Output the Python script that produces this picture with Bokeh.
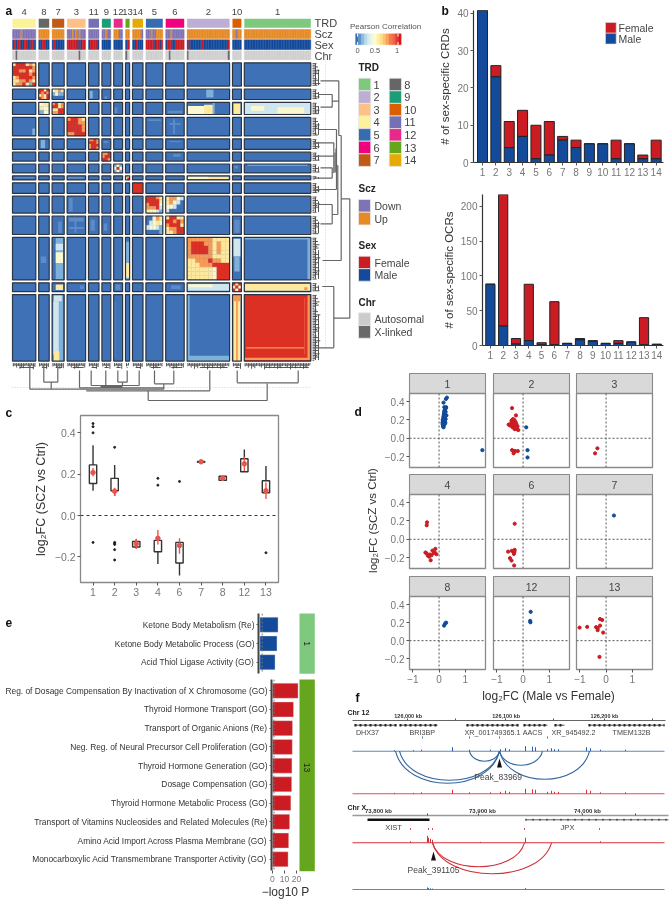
from bokeh.plotting import figure
from bokeh.layouts import column
from bokeh.models import Range1d, FactorRange, FixedTicker, Span
from bokeh.core.properties import value
from bokeh.embed import file_html
from bokeh.resources import INLINE

FONT = "Liberation Sans"
RED, BLUE = "#cb1c24", "#134a9a"
GREY_TXT, DARK_TXT = "#777777", "#333333"

# ---------- data: CRD counts per TRD (panel b)
trd = list(range(1, 15))
crd_male = [41, 23, 4, 7, 1, 2, 6, 4, 5, 5, 1, 5, 1, 1]
crd_female = [0, 3, 7, 7, 9, 9, 1, 2, 0, 0, 5, 0, 1, 5]
ocr_male = [88, 28, 2, 7, 1, 1, 3, 8, 6, 3, 3, 5, 1, 1]
ocr_female = [0, 189, 8, 81, 3, 62, 0, 2, 1, 0, 4, 0, 39, 1]
trd_colors = {1: "#7fc97f", 2: "#beaed4", 3: "#fdc086", 4: "#fbf29a", 5: "#386cb0", 6: "#f0027f", 7: "#bf5b17",
              8: "#666666", 9: "#1b9e77", 10: "#d95f02", 11: "#7570b3", 12: "#e7298a", 13: "#66a61e", 14: "#e6ab02"}

# ---------- data: heat map
order = [4, 8, 7, 3, 11, 9, 12, 13, 14, 5, 6, 2, 10, 1]
scz = {4: "DDDDDUDDDDDDDD", 8: "UUUUUU", 7: "UUUUUUU", 3: "DDDUDUDUDDD", 11: "DDDDDD", 9: "DDUDD", 12: "UUUDD", 13: "UU",
       14: "UUUUUD", 5: "DDDUDDUUUU", 6: "DDDUDDDDDDD", 2: "U" * 26, 10: "UUDUU", 1: "U" * 41}
sex = {4: "MFMFFMMFFMMFFM", 8: "MMFFMM", 7: "MFMMMMM", 3: "FFFFFFMFMFF", 11: "MFFFFM", 9: "MMMMM", 12: "MMMMM", 13: "MF",
       14: "MMFMMM", 5: "FFFFFMFFMF", 6: "MFFFMMFFFFF", 2: "MFMMMMMMMFMMMMMMMMMMMMMMMF", 10: "MMMMM", 1: "M" * 41}
chr_x = {4: [2], 3: [7], 13: [0], 6: [2], 2: [0, 25]}
ramp = {"B": "#3f71b7", "l": "#5c8cc8", "L": "#7fb0da", "P": "#cfe6ee", "W": "#fbf8d0", "Y": "#fee99d", "O": "#f79a56", "R": "#dc3024", "D": "#e8553c"}
diag = {
    4: ["YRRRYOY", "RRRRRRO", "RROORYO", "RRRRROR", "YORRRRO", "YYOOROY", "YOORYLR"],
    8: ["RRWR", "RORO", "WOYR", "ROYR"],
    7: ["ORYO", "RRYO", "YYRR", "OORR"],
    3: ["ORROY", "RRROO", "RRRRO", "RRRRO", "OORRR"],
    11: ["OORO", "RRRO", "ORRR", "ORRO"],
    9: ["OOR", "ORR", "RRO"],
    12: ["LWL", "WRW", "LWL"],
    13: ["OW", "WR"],
    14: ["R"],
    5: ["RRROY", "RRRRY", "ORRRW", "OOORP", "YWWPL"],
    6: ["YRRYY", "RRORO", "ORRRY", "YOORR", "YYORR"],
    2: ["OOOOOOYYYY", "ORRROOYOYY", "ORRRROYOYY", "ORRRROYOYY", "OOOOOOYYYY", "YYOOOROOYY", "YYYOOORRRR", "YYYYYYWRRR", "YYYYYYWRRR", "YYYYYYWRRR"],
    10: ["RYR", "YRW", "RWR"],
    1: ["R"],
}
cross = {(5, 6): ["YOOWP", "YOWPB", "WWPBB", "PBBBB"], (6, 5): ["BBWOY", "BPWYW", "PWWPL", "BBBBL"],
         (8, 7): ["WYOY", "LWLL", "BBBB"], (7, 8): ["WY", "YW", "LW"]}
patches = [(1, 1, .95, .985, 0, .96, "O"), (1, 1, 0, .985, .95, .985, "O"), (1, 1, .03, .9, .79, .81, "O"), (1, 1, .9, .915, .05, .9, "D"),
           (8, 2, .45, .62, 0, .8, "L"), (8, 11, .1, .4, .2, .9, "L"), (8, 9, .3, .6, .7, 1, "l"),
           (7, 2, .02, .62, .3, 1, "W"), (7, 2, .4, .62, .2, 1, "Y"), (7, 2, .6, .65, 0, 1, "L"),
           (7, 1, 0, 1, 0, 1, "P"), (7, 1, .1, .3, .3, .7, "W"), (7, 1, .5, .9, .4, .9, "W"), (7, 10, .1, .9, .1, 1, "Y"),
           (7, 6, .1, .9, .7, .9, "l"), (7, 12, 0, .4, .4, .9, "l"), (3, 5, .1, .9, .1, .2, "l"), (3, 6, .2, .8, .3, .4, "l"),
           (3, 6, .4, .5, .1, .9, "l"), (3, 4, .85, 1, .6, .95, "L"), (11, 8, .2, .6, .1, .9, "L"), (11, 6, .2, .8, .2, .3, "l"),
           (11, 9, .2, .7, .2, .4, "l"), (9, 6, .4, .8, .2, .5, "l"), (12, 1, .05, .95, .05, .2, "L"), (12, 10, .2, .6, .2, .5, "l"),
           (13, 2, .02, .98, .2, .8, "Y"), (13, 2, .02, .5, .2, .8, "W"), (13, 3, .05, .9, .2, .7, "l"), (13, 4, .1, .9, .3, .6, "l"),
           (5, 3, .1, .3, .1, .9, "l"), (6, 3, .1, .9, .1, .3, "l"), (6, 3, .4, .5, .1, .9, "l"), (6, 3, .1, .9, .6, .7, "l"),
           (6, 11, .2, .6, .2, .8, "l"), (6, 9, .2, .6, .4, .8, "l"), (6, 7, .5, .8, .3, .9, "l"), (6, 10, .2, .8, .2, .9, "l"),
           (2, 7, .3, .9, 0, 1, "L"), (2, 7, .3, .9, .15, .3, "P"), (2, 7, .3, .9, .35, .6, "W"), (2, 8, .2, .7, .45, .6, "l"),
           (2, 13, .1, .9, .1, 1, "L"), (2, 13, .1, .9, .6, .95, "Y"), (2, 10, .1, .9, .03, .45, "P"), (2, 10, .2, .8, .45, .8, "L"),
           (2, 1, 0, 1, 0, .05, "L"), (2, 1, .95, 1, 0, 1, "L"), (10, 7, .3, .9, .2, .8, "Y"), (10, 3, .7, .9, .3, .7, "l"),
           (10, 12, .2, .7, .2, .8, "l"), (10, 6, .3, .8, .3, .7, "l"), (10, 2, .01, .99, .1, .9, "P"), (10, 2, .03, .6, .2, .5, "W"),
           (10, 1, .01, .99, .1, .9, "Y"), (10, 1, .9, .95, .5, .8, "O"), (1, 7, .1, .9, 0, 1, "L"), (1, 7, .15, .8, 0, .1, "P"),
           (1, 7, .1, .55, .1, .9, "P"), (1, 7, .15, .6, .85, 1, "Y"), (1, 12, .1, .2, .1, .95, "l"), (1, 2, 0, .06, 0, 1, "L"),
           (1, 2, 0, 1, .92, 1, "L"), (1, 10, .1, .9, 0, 1, "Y"), (1, 10, .1, .9, 0, .1, "O"), (1, 10, .4, .6, 0, 1, "O")]
leaf_pattern = "4263857314629537"
row_tree = [(320, 80.3, 338.3, 80.3), (318, 94, 331.7, 94), (320, 106.7, 331.7, 106.7), (331.7, 94, 331.7, 106.7), (331.7, 100.7, 338.3, 100.7),
            (338.3, 80.3, 338.3, 135), (338.3, 135, 340.7, 135), (340.7, 135, 340.7, 260), (322, 260, 340.7, 260), (340.7, 198.3, 349.3, 198.3),
            (349.3, 198.3, 349.3, 317.7), (333.3, 317.7, 349.3, 317.7), (333.3, 286, 333.3, 347.3), (321.7, 286, 333.3, 286), (313.3, 347.3, 333.3, 347.3),
            (318.3, 129, 336, 129), (336, 129, 336, 189), (313, 142.3, 333.3, 142.3), (313, 155.7, 333.3, 155.7), (320, 167.3, 331.7, 167.3),
            (313, 177.7, 331.7, 177.7), (331.7, 167.3, 331.7, 177.7), (331.7, 172, 333.3, 172), (313, 189, 336, 189), (318.3, 204, 331.7, 204),
            (320, 223.3, 331.7, 223.3), (331.7, 204, 331.7, 223.3), (331.7, 214, 337.3, 214), (337.3, 165, 337.3, 214), (336, 165, 337.3, 165),
            (333.3, 142.3, 333.3, 172), (334.5, 152, 334.5, 172), (335.5, 148, 335.5, 172)]
col_tree = [(29.3, 365, 29.3, 388.7), (43.3, 365, 43.3, 381.7), (57.3, 365, 57.3, 381.7), (43.3, 381.7, 57.3, 381.7), (50.7, 381.7, 50.7, 388.7),
            (29.3, 388.7, 163.3, 388.7), (85.7, 390.3, 209.3, 390.3), (209.3, 370, 209.3, 390.3), (147.7, 390.3, 147.7, 400), (147.7, 400, 266.7, 400),
            (266.7, 383, 266.7, 400), (236.7, 370, 236.7, 382.3), (297.7, 370, 297.7, 382.3), (236.7, 382.3, 297.7, 382.3), (79, 370, 79, 387.3),
            (79, 387.3, 163.3, 387.3), (154, 370, 154, 383.3), (173.3, 370, 173.3, 383.3), (154, 383.3, 173.3, 383.3), (163.3, 383.3, 163.3, 388.7),
            (90.7, 370, 90.7, 385), (105.3, 370, 105.3, 385), (117.3, 370, 117.3, 381.7), (126.7, 370, 126.7, 381.7), (117.3, 381.7, 126.7, 381.7),
            (122, 381.7, 122, 385), (138.7, 370, 138.7, 385), (90.7, 385, 138.7, 385), (100, 386, 122, 386), (100, 387, 122, 387)]

# ---------- data: panel c
c_labels = ["1", "2", "3", "4", "6", "7", "8", "12", "13"]
c_q1 = [.155, .12, -.152, -.175, -.23, .258, .17, .212, .11]
c_q3 = [.245, .18, -.125, -.12, -.13, .262, .19, .275, .168]
c_lo = [.12, .095, -.16, -.235, -.29, .258, .17, .212, .11]
c_hi = [.34, .245, -.115, -.12, -.13, .262, .19, .32, .24]
c_mean = [.208, .118, -.137, -.11, -.145, .26, .18, .25, .12]
c_err_lo = [.19, .095, -.162, -.14, -.185, .252, .168, .215, .08]
c_err_hi = [.23, .135, -.112, -.07, -.11, .268, .192, .285, .16]
c_out_x = [0, 0, 0, 0, 1, 1, 1, 1, 1, 1, 3, 3, 4, 8]
c_out_y = [.40, .43, .445, -.13, .33, -.13, -.135, -.14, -.165, -.215, .18, .147, .165, -.18]

# ---------- data: panel d  (x, y, colour class)
d_panels = {
    "1": [(.15, .13), (.17, .12), (.14, .15), (.18, .14), (.2, .15), (.16, .16), (.13, .17), (.19, .17), (.22, .16), (.15, .18), (.18, .18), (.21, .18),
          (.24, .17), (.14, .2), (.17, .2), (.2, .2), (.23, .2), (.16, .22), (.19, .22), (.22, .22), (.25, .21), (.17, .24), (.2, .24), (.23, .24),
          (.28, .25), (.18, .26), (.21, .26), (.24, .26), (.19, .28), (.22, .28), (.2, .3), (.25, .29), (.23, .31), (.26, .33), (.2, .34), (.27, .34),
          (.17, .39), (.26, .43), (.3, .445), (1.65, -.13)],
    "2": [(-.42, .33), (-.27, .25), (-.55, .15), (-.5, .14), (-.46, .16), (-.44, .19), (-.42, .2), (-.4, .18), (-.38, .21), (-.36, .19), (-.33, .2),
          (-.44, .14), (-.41, .15), (-.38, .16), (-.35, .16), (-.32, .17), (-.29, .18), (-.26, .16), (-.4, .12), (-.36, .13), (-.33, .13), (-.3, .14),
          (-.27, .13), (-.24, .14), (-.21, .13), (-.32, .1), (-.28, .11), (-.24, .1), (-.18, .09), (-.42, -.13), (-.35, -.14), (-.3, -.14), (-.2, -.14),
          (-.36, -.165)],
    "3": [(-.33, -.11), (-.42, -.165)],
    "4": [(-.46, .185), (-.47, .153), (-.52, -.145), (-.48, -.153), (-.43, -.178), (-.35, -.167), (-.29, -.175), (-.25, -.124), (-.32, -.23),
          (-.14, -.105), (-.16, -.145), (-.1, -.164), (-.38, -.19), (-.2, -.15)],
    "6": [(-.32, .17), (-.32, -.116), (-.33, -.138), (-.43, -.127), (-.57, -.135), (-.35, -.16), (-.5, -.207), (-.44, -.233), (-.34, -.287), (-.38, -.127)],
    "7": [(.3, .26)],
    "8": [(.27, .2), (.23, .19), (.19, .167)],
    "12": [(.29, .32), (.27, .22), (.28, .204)],
    "13": [(-1.01, .145), (-.72, .153), (-.38, .15), (-.32, .116), (-.23, .24), (-.15, .23), (-.23, .167), (-.11, .09), (-.25, -.18), (-.32, .14)],
}
d_blue = {"1": BLUE, "2": RED, "3": RED, "4": RED, "6": RED, "7": BLUE, "8": BLUE, "12": BLUE, "13": RED}
d_extra_blue = [(.12, .12), (.17, -.13), (.17, -.21)]

# ---------- data: panel e
e_top = ["Ketone Body Metabolism (Re)", "Ketone Body Metabolic Process (GO)", "Acid Thiol Ligase Activity (GO)"]
e_top_v = [10.3, 9.7, 8.6]
e_low = ["Reg. of Dosage Compensation By Inactivation of X Chromosome (GO)", "Thyroid Hormone Transport (GO)", "Transport of Organic Anions (Re)",
         "Neg. Reg. of Neural Precursor Cell Proliferation (GO)", "Thyroid Hormone Generation (GO)", "Dosage Compensation (GO)",
         "Thyroid Hormone Metabolic Process (GO)", "Transport of Vitamins Nucleosides and Related Molecules (Re)",
         "Amino Acid Import Across Plasma Membrane (GO)", "Monocarboxylic Acid Transmembrane Transporter Activity (GO)"]
e_low_v = [21.3, 17.5, 16.7, 16.5, 16.2, 16, 15.3, 14.3, 13.5, 13]

# ---------- data: panel f (positions on the page strip)
f12_spike_x = [452, 469, 490, 525, 532, 535, 547, 551, 554, 558, 586, 590, 600, 625, 505, 500, 509, 421, 394, 413]
f12_spike_h = [4, 1.5, 1.5, 5, 4.5, 4, 2, 3, 2, 2, 4, 3, 1.5, 1.5, 3, 2, 2, 1.5, 1, 1]
fx_spike_x = [427, 428, 430, 432, 525, 410, 600, 480]
fx_spike_h = [7, 5, 4, 3, 5, 1.5, 1.5, 1]
f12_arc_feet = [395, 399, 469, 542, 589]
f12_arc_depth = [32, 29, 10, 14, 28]
fx_arc_feet = [524, 551]
fx_arc_depth = [24, 31]

# ---------- page
W, H = 671, 899
bg = figure(width=W, height=H, x_range=Range1d(0, W), y_range=Range1d(H, 0), output_backend="svg", toolbar_location=None, min_border=0)
bg.axis.visible = False
bg.grid.visible = False
bg.outline_line_color = None


def txt(x, y, s, size=10, color=DARK_TXT, align="left", bold=False, angle=0):
    bg.text([x], [y], [s], text_font=value(FONT), text_font_size=f"{size}px", text_color=color, text_align=align, text_baseline="middle",
            text_font_style="bold" if bold else "normal", angle=angle)


def box(l, r, t, b, color, line=None, lw=1):
    bg.quad(left=[l], right=[r], top=[t], bottom=[b], fill_color=color, line_color=line, line_width=lw)


def segs(items, color="#555555", lw=1.1):
    bg.segment(x0=[s[0] for s in items], y0=[s[1] for s in items], x1=[s[2] for s in items], y1=[s[3] for s in items], line_color=color, line_width=lw)


# panel labels
txt(5, 10, "a", 12, "#111111", bold=True)
txt(441, 10, "b", 12, "#111111", bold=True)
txt(5, 412, "c", 12, "#111111", bold=True)
txt(354, 411, "d", 12, "#111111", bold=True)
txt(5, 622, "e", 12, "#111111", bold=True)
txt(355, 697, "f", 12, "#111111", bold=True)

# heat map geometry derived from the CRD counts
sizes = {t: crd_male[t - 1] + crd_female[t - 1] for t in trd}
pos = {}
cur = 0.0
for t in order:
    pos[t] = (cur, cur + 1.6 * sizes[t] + .9)
    cur = pos[t][1] + 2.9
X0, Y0 = 12.0, 62.3
xpos = {t: (X0 + a, X0 + b) for t, (a, b) in pos.items()}
ypos = {t: (Y0 + a, Y0 + b) for t, (a, b) in pos.items()}

# annotation rows
for t in order:
    l, r = xpos[t]
    txt((l + r) / 2, 11.7, str(t), 9.5, "#444444", "center")
    box(l, r, 18.3, 27.3, trd_colors[t])
    n = sizes[t]
    w = (r - l) / n
    ls = [l + i * w for i in range(n)]
    rs = [l + (i + 1) * w for i in range(n)]
    c1 = ["#8073b5" if c == "D" else "#e58a25" for c in scz[t]]
    c2 = [RED if c == "F" else BLUE for c in sex[t]]
    c3 = ["#696969" if i in chr_x.get(t, []) else "#d0d0d0" for i in range(n)]
    bg.quad(left=ls, right=rs, top=29, bottom=38, fill_color=c1, line_color=c1, line_width=.4)
    bg.quad(left=ls, right=rs, top=39.3, bottom=49, fill_color=c2, line_color=c2, line_width=.4)
    bg.quad(left=ls, right=rs, top=50.3, bottom=59.3, fill_color=c3, line_color=c3, line_width=.4)
for y, s in [(22.5, "TRD"), (33.5, "Scz"), (44.5, "Sex"), (55, "Chr")]:
    txt(314, y, s, 11, "#444444")


def grid(rt, ct, rows):
    l, r = xpos[ct]
    t, b = ypos[rt]
    nr, nc = len(rows), len(rows[0])
    L, R, T, B, C = [], [], [], [], []
    for i, row in enumerate(rows):
        for j, ch in enumerate(row):
            L.append(l + (r - l) * j / nc); R.append(l + (r - l) * (j + 1) / nc)
            T.append(t + (b - t) * i / nr); B.append(t + (b - t) * (i + 1) / nr)
            C.append(ramp.get(ch, ramp["B"]))
    bg.quad(left=L, right=R, top=T, bottom=B, fill_color=C, line_color=C, line_width=.3)


for rt in order:
    for ct in order:
        box(xpos[ct][0], xpos[ct][1], ypos[rt][0], ypos[rt][1], ramp["B"])
for t, rows in diag.items():
    grid(t, t, rows)
for (rt, ct), rows in cross.items():
    grid(rt, ct, rows)
for rt, ct, fx0, fx1, fy0, fy1, ch in patches:
    l, r = xpos[ct]
    t, b = ypos[rt]
    box(l + (r - l) * fx0, l + (r - l) * fx1, t + (b - t) * fy0, t + (b - t) * fy1, ramp[ch])
bg.quad(left=[xpos[c][0] for r in order for c in order], right=[xpos[c][1] for r in order for c in order],
        top=[ypos[r][0] for r in order for c in order], bottom=[ypos[r][1] for r in order for c in order],
        fill_color=None, line_color="#2b3440", line_width=1.2)

# dendrograms
bg.segment([325], [55], [325], [348], line_color="#d0d0d0", line_dash="1 2")
bg.segment([11], [387], [310], [387], line_color="#d0d0d0", line_dash="1 2")
rs_ = []
cs_ = []
for t in order:
    n = sizes[t]
    yl, yr = ypos[t]
    xl, xr = xpos[t]
    for i in range(n):
        d = int(leaf_pattern[i % len(leaf_pattern)])
        yy = yl + (yr - yl) * (i + .5) / n
        xx = xl + (xr - xl) * (i + .5) / n
        rs_.append((312, yy, 313 + d * .75, yy))
        cs_.append((xx, 362.5, xx, 363.5 + d * .6))
    rs_.append((315, yl + 1, 315, yr - 1))
    rs_.append((318, yl + (yr - yl) * .3, 318, yr - 1))
    cs_.append((xl + 1, 364.5, xr - 1, 364.5))
    cs_.append((xl + (xr - xl) * .3, 367, xr - 2, 367))
segs(rs_, "#444444", .9)
segs(cs_, "#444444", .9)
segs(row_tree, "#666666", 1.2)
segs(col_tree, "#666666", 1.2)

# legends
txt(385, 26, "Pearson Correlation", 8, "#555555", "center")
cbar_colors = ["#3b6fb6", "#5f93c9", "#8fbcdc", "#b9dae8", "#d8ecf0", "#eef7e0", "#fffcc8", "#fff0a8", "#fee08b", "#fdc274", "#fba35c", "#f4794c", "#ef6a45", "#e33f30", "#d7191c"]
cw = (400.7 - 355) / len(cbar_colors)
bg.quad(left=[355 + i * cw for i in range(len(cbar_colors))], right=[355 + (i + 1) * cw for i in range(len(cbar_colors))], top=33.3, bottom=44.3,
        fill_color=cbar_colors, line_color=cbar_colors, line_width=.3)
segs([(357, 33.3, 357, 36), (357, 41.6, 357, 44.3), (397.5, 33.3, 397.5, 36), (397.5, 41.6, 397.5, 44.3)], "#ffffff", 1)
for x, s in [(357, "0"), (374.5, "0.5"), (396.7, "1")]:
    txt(x, 50, s, 7.5, "#555555", "center")
txt(358, 67, "TRD", 10, "#222222", bold=True)
for i, t in enumerate(trd):
    col = 0 if i < 7 else 1
    row = i if i < 7 else i - 7
    sx = 358 if col == 0 else 388.7
    box(sx, sx + 12.3, 77.7 + row * 12.6, 77.7 + (row + 1) * 12.6, trd_colors[t], "#e8e8e8", .8)
    txt(sx + 15, 84 + row * 12.6, str(t), 11, "#444444")
txt(358, 188.3, "Scz", 10, "#222222", bold=True)
for k, (s, c) in enumerate([("Down", "#8073b5"), ("Up", "#e58a25")]):
    box(358, 370, 199 + k * 12.7, 199 + (k + 1) * 12.7, c, "#e8e8e8", .8)
    txt(374, 205.3 + k * 12.7, s, 10.5, "#444444")
txt(358, 245, "Sex", 10, "#222222", bold=True)
for k, (s, c) in enumerate([("Female", RED), ("Male", BLUE)]):
    box(358, 370, 255.7 + k * 12.5, 255.7 + (k + 1) * 12.5, c, "#e8e8e8", .8)
    txt(374, 262 + k * 12.5, s, 10.5, "#444444")
txt(358, 301.7, "Chr", 10, "#222222", bold=True)
for k, (s, c) in enumerate([("Autosomal", "#cccccc"), ("X-linked", "#696969")]):
    box(358, 370, 312.3 + k * 12.7, 312.3 + (k + 1) * 12.7, c, "#e8e8e8", .8)
    txt(374, 318.6 + k * 12.7, s, 10.5, "#444444")
# legend of b
box(605, 615.7, 22, 32.7, RED, "#dddddd", .6)
box(605, 615.7, 32.7, 43.5, BLUE, "#dddddd", .6)
txt(618, 27.5, "Female", 10.5, "#444444")
txt(618, 38.5, "Male", 10.5, "#444444")

# d strips
d_cols = [(409, 485), (493, 569), (576, 652)]
d_rows = [(393, 467), (494, 568), (596, 669)]
d_names = [["1", "2", "3"], ["4", "6", "7"], ["8", "12", "13"]]
for ri, (top, _) in enumerate(d_rows):
    for ci, (l, r) in enumerate(d_cols):
        box(l, r, top - 20, top, "#d9d9d9", "#8a8a8a", 1.1)
        txt((l + r) / 2, top - 10, d_names[ri][ci], 10.5, "#444444", "center")
txt(548, 695, "log₂FC (Male vs Female)", 12, DARK_TXT, "center")
txt(372, 520, "log₂FC (SCZ vs Ctrl)", 11.5, DARK_TXT, "center", angle=1.5708)

# e strips
box(299, 314.3, 613, 673.3, "#7fc97f")
box(299, 314.3, 679, 870.7, "#66a61e")
txt(306.5, 643, "1", 8.5, "#222222", "center", angle=-1.5708)
txt(306.5, 767, "13", 8.5, "#222222", "center", angle=-1.5708)

# f tracks
txt(347, 712, "Chr 12", 7, "#222222", bold=True)
txt(347, 807, "Chr X", 7, "#222222", bold=True)
segs([(352, 720, 665, 720)], "#666666", 1)
segs([(352, 815, 668, 815)], "#999999", 1.6)
segs([(x, 718, x, 720) for x in (455, 553, 652, 407, 505, 604)], "#555555", 1)
segs([(x, 813, x, 815) for x in (427, 478, 582, 635)], "#555555", 1)
for x, s in [(407.7, "126,000 kb"), (505.7, "126,100 kb"), (604, "126,200 kb")]:
    txt(x, 715, s, 5.5, "#333333", "center", True)
for x, s in [(378, "73,800 kb"), (482, "73,900 kb"), (587, "74,000 kb")]:
    txt(x, 810, s, 6, "#333333", "center", True)
genes12 = [(354, 396), (399, 437), (466, 518), (523, 547), (554, 564), (588, 664)]
for a, b in genes12:
    segs([(a, 724.7, b, 724.7)], "#222222", .8)
    bg.segment([a], [724.7], [b], [724.7], line_color="#222222", line_width=2.5, line_dash="2 3")
segs([(367, 819.3, 429, 819.3)], "#111111", 2.6)
segs([(525, 819.3, 668, 819.3)], "#333333", .8)
bg.segment([525], [819.3], [668], [819.3], line_color="#222222", line_width=2, line_dash="1 6")
for x, s in [(367, "DHX37"), (421.7, "BRI3BP"), (492, "XR_001749365.1"), (532, "AACS"), (573, "XR_945492.2"), (631, "TMEM132B")]:
    txt(x, 731.7, s, 7.2, "#444444", "center")
txt(393, 826.7, "XIST", 7.5, "#444444", "center")
txt(567, 826.7, "JPX", 7.5, "#444444", "center")
segs([(x, 736, x, 738) for x in (422, 469, 499, 547)], "#3f6fb5", 1)
segs([(x, 827.5, x, 829.5) for x in (410, 428, 432, 524, 599)], "#e05050", 1)
T1, T2, T3, T4 = 750.7, 793.3, 842.3, 889
segs([(352, T1, 664, T1)], "#5f88bd", 1.1)
segs([(352, T2, 664, T2)], "#e0505a", 1.1)
segs([(352, T3, 664, T3)], "#d8303a", 1.1)
segs([(352, T4, 664, T4)], "#5f88bd", 1.1)
segs([(x, T1, x, T1 - h) for x, h in zip(f12_spike_x, f12_spike_h)], "#2e62a8", 1)
segs([(x, T2, x, T2 - h) for x, h in zip(f12_spike_x, f12_spike_h)], "#d8303a", 1)
segs([(x, T3, x, T3 - h) for x, h in zip(fx_spike_x, fx_spike_h)], "#d8303a", 1)
segs([(x, T4, x, T4 - h * .3) for x, h in zip(fx_spike_x, fx_spike_h)], "#3f6fb5", 1)
peak12, peakx = 499, 432
for ft, dp in zip(f12_arc_feet, f12_arc_depth):
    yb = T1 + dp * 4 / 3
    bg.bezier(x0=[ft], y0=[T1], x1=[peak12], y1=[T1], cx0=[ft + (peak12 - ft) * .1], cy0=[yb], cx1=[peak12 - (peak12 - ft) * .1], cy1=[yb], line_color="#33669f", line_width=1.1)
for ft, dp in zip(fx_arc_feet, fx_arc_depth):
    yb = T3 + dp * 4 / 3
    bg.bezier(x0=[peakx], y0=[T3], x1=[ft], y1=[T3], cx0=[peakx + (ft - peakx) * .1], cy0=[yb], cx1=[ft - (ft - peakx) * .1], cy1=[yb], line_color="#d0303a", line_width=1.1)
bg.patch([peak12 - 2.5, peak12, peak12 + 2.5], [767, 758, 767], fill_color="#111111", line_color=None)
bg.patch([433 - 2.5, 433, 433 + 2.5], [860, 851, 860], fill_color="#111111", line_color=None)
txt(497.7, 776, "Peak_83969", 8.5, "#444444", "center")
txt(433, 869, "Peak_391105", 8.5, "#444444", "center")


def abs_wrap(f, x, y, w, h):
    return column(f, width=w, height=h, styles={"position": "absolute", "left": f"{x}px", "top": f"{y}px"})


children = [abs_wrap(bg, 0, 0, W, H)]


def panel(x0, y0, x1, y1, xr, yr, left=40, bottom=24, top=3, right=3):
    w, h = (x1 - x0) + left + right, (y1 - y0) + top + bottom
    f = figure(width=w, height=h, x_range=xr, y_range=yr, output_backend="svg", toolbar_location=None,
               min_border_left=left, min_border_right=right, min_border_top=top, min_border_bottom=bottom)
    f.background_fill_alpha = 0
    f.border_fill_alpha = 0
    f.grid.visible = False
    f.outline_line_color = None
    for a in f.axis:
        a.major_label_text_font = FONT
        a.major_label_text_color = GREY_TXT
        a.major_label_text_font_size = "10px"
        a.axis_label_text_font = FONT
        a.axis_label_text_font_style = "normal"
        a.axis_label_text_color = DARK_TXT
        a.minor_tick_line_color = None
        a.major_tick_line_color = "#555555"
        a.major_tick_in = 0
        a.major_tick_out = 3
        a.major_label_standoff = 2
    children.append(abs_wrap(f, x0 - left, y0 - top, w, h))
    return f


def stacked(x0, y0, x1, y1, xr, yr, male, female, yt, label, w):
    f = panel(x0, y0, x1, y1, Range1d(*xr), Range1d(*yr), left=40, bottom=20)
    tops = [m + g for m, g in zip(male, female)]
    f.vbar(x=trd, width=w, bottom=male, top=tops, fill_color=RED, line_color="#222222", line_width=1)
    f.vbar(x=trd, width=w, bottom=0, top=male, fill_color=BLUE, line_color="#222222", line_width=1)
    f.xaxis.ticker = FixedTicker(ticks=trd)
    f.yaxis.ticker = FixedTicker(ticks=yt)
    f.yaxis.axis_label = label
    f.yaxis.axis_label_text_font_size = "11.5px"
    f.yaxis.axis_label_standoff = 3
    for a in f.axis:
        a.axis_line_color = "#333333"
        a.axis_line_width = 1.2
    return f


stacked(473, 10, 663, 162, (.325, 14.55), (0, 40.8), crd_male, crd_female, [0, 10, 20, 30, 40], "# of sex-specific CRDs", .75)
stacked(479, 194, 663, 345, (.385, 14.52), (0, 217), ocr_male, ocr_female, [0, 50, 100, 150, 200], "# of sex-specific OCRs", .72)

# panel c
fc = panel(80, 415, 278, 582, Range1d(-.58, 8.58), Range1d(-.324, .484), left=60, bottom=24)
fc.outline_line_color = "#888888"
fc.outline_line_width = 1.3
xs = list(range(len(c_labels)))
fc.add_layout(Span(location=0, dimension="width", line_color="#333333", line_dash="3 3", line_width=1.1))
fc.segment(xs, c_lo, xs, c_hi, line_color="#333333", line_width=1.4)
fc.vbar(x=xs, width=.34, bottom=c_q1, top=c_q3, fill_color="white", line_color="#333333", line_width=1.4)
fc.scatter(c_out_x, c_out_y, size=2, color="#222222")
fc.segment(xs, c_err_lo, xs, c_err_hi, line_color="#e8554e", line_width=1.4)
fc.scatter(xs, c_mean, size=4.5, color="#e8554e")
fc.xaxis.ticker = FixedTicker(ticks=xs)
fc.xaxis.major_label_overrides = {i: s for i, s in enumerate(c_labels)}
fc.yaxis.ticker = FixedTicker(ticks=[-.2, 0, .2, .4])
fc.yaxis.major_label_overrides = {-.2: "−0.2", 0: "0.0", .2: "0.2", .4: "0.4"}
fc.yaxis.axis_label = "log₂FC (SCZ vs Ctrl)"
fc.yaxis.axis_label_text_font_size = "12.5px"
fc.yaxis.axis_label_standoff = 4
for a in fc.axis:
    a.axis_line_color = None
    a.major_label_text_font_size = "10.5px"

# panel d
for ri, (t, b) in enumerate(d_rows):
    for ci, (l, r) in enumerate(d_cols):
        name = d_names[ri][ci]
        f = panel(l, t, r, b, Range1d(-1.127, 1.77), Range1d(-.32, .49), left=34, bottom=22)
        f.outline_line_color = "#8a8a8a"
        f.outline_line_width = 1.3
        f.add_layout(Span(location=0, dimension="width", line_color="#555555", line_dash="2 2", line_width=1))
        f.add_layout(Span(location=0, dimension="height", line_color="#555555", line_dash="2 2", line_width=1))
        pts = d_panels[name]
        f.scatter([p[0] for p in pts], [p[1] for p in pts], size=3.2, color=d_blue[name])
        if name == "2":
            f.scatter([p[0] for p in d_extra_blue], [p[1] for p in d_extra_blue], size=3.2, color=BLUE)
        f.xaxis.ticker = FixedTicker(ticks=[-1, 0, 1])
        f.xaxis.major_label_overrides = {-1: "−1", 0: "0", 1: "1"}
        f.yaxis.ticker = FixedTicker(ticks=[-.2, 0, .2, .4])
        f.yaxis.major_label_overrides = {-.2: "−0.2", 0: "0.0", .2: "0.2", .4: "0.4"}
        for a in f.axis:
            a.axis_line_color = None
        f.xaxis.visible = ri == 2
        f.yaxis.visible = ci == 0

# panel e
def ebars(y0, y1, labels, vals, color, pad, show_x):
    f = panel(258, y0, 299, y1, Range1d(-.8, 22.5), FactorRange(*labels[::-1], range_padding=pad), left=256, bottom=30 if show_x else 2, top=1, right=16)
    f.hbar(y=labels, right=vals, left=0, height=.8, fill_color=color, line_color="#dddddd", line_width=.4)
    f.add_layout(Span(location=1.3, dimension="height", line_color="#777777", line_dash="2 2", line_width=1))
    f.yaxis.major_label_text_color = "#333333"
    f.yaxis.major_label_text_font_size = "8.4px"
    f.yaxis.axis_line_color = "#444444"
    f.yaxis.axis_line_width = 2
    f.yaxis.major_tick_out = 2
    f.yaxis.major_label_standoff = 2
    f.xaxis.visible = show_x
    if show_x:
        f.xaxis.ticker = FixedTicker(ticks=[0, 10, 20])
        f.xaxis.axis_line_color = None
        f.xaxis.axis_label = "−log10 P"
        f.xaxis.axis_label_text_font_size = "12px"
        f.xaxis.axis_label_standoff = 0
        f.xaxis.major_label_text_font_size = "8.5px"
    return f


ebars(613, 673, e_top, e_top_v, BLUE, .0667, False)
ebars(679, 871, e_low, e_low_v, RED, .02, True)

root = column(*children, width=W, height=H, styles={"position": "absolute", "left": "0px", "top": "0px", "filter": "blur(0.45px)"})
open("out.html", "w").write(file_html(root, INLINE))
